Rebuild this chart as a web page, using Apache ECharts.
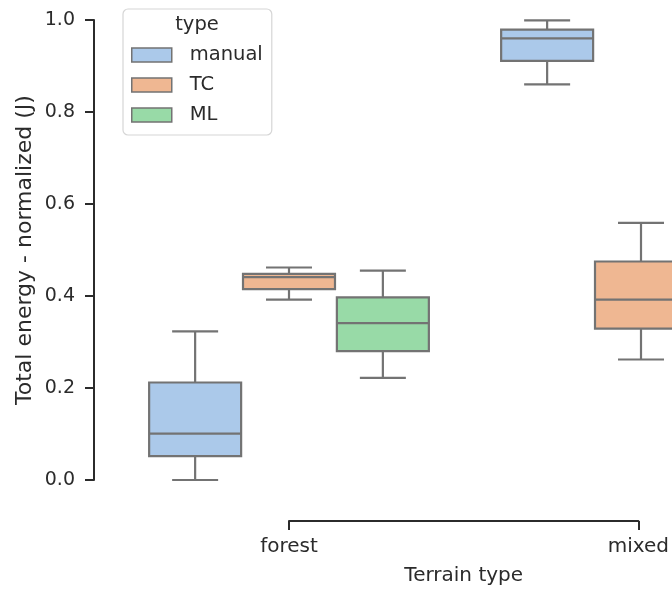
<!DOCTYPE html>
<html>
<head>
<meta charset="utf-8">
<script src="https://cdn.jsdelivr.net/npm/echarts@6/dist/echarts.min.js"></script>
<style>
  html, body { margin: 0; padding: 0; background: #fff; }
  #chart { width: 672px; height: 589px; }
</style>
</head>
<body>
<div id="chart"></div>
<script>
// Terrain categories and controller types
const terrains = ['forest', 'mixed'];
const types = ['manual', 'TC', 'ML'];

// Box statistics per terrain: [lower whisker, Q1, median, Q3, upper whisker]
const manualStats = [[0.000, 0.052, 0.101, 0.212, 0.323], [0.860, 0.911, 0.960, 0.979, 0.999]];
const tcStats     = [[0.392, 0.415, 0.441, 0.448, 0.462], [0.262, 0.329, 0.392, 0.475, 0.559]];
const mlStats     = [[0.222, 0.280, 0.341, 0.397, 0.455], null];

// Y axis ticks
const yTicks = [0.0, 0.2, 0.4, 0.6, 0.8, 1.0];

const fills = ['#abc9ea', '#efb792', '#98daa7'];
const edge = '#737373';
const ink = '#2b2b2b';
const font = 'DejaVu Sans';

const statsByType = [manualStats, tcStats, mlStats];
const hueStep = 0.8 / types.length;
const boxUnits = hueStep * 0.98;

function makeRender(hueIdx) {
  return function (params, api) {
    const xc = api.value(0) + (hueIdx - (types.length - 1) / 2) * hueStep;
    const cx = api.coord([xc, 0])[0];
    const w = api.size([boxUnits, 0])[0];
    const yLo = api.coord([xc, api.value(1)])[1];
    const yQ1 = api.coord([xc, api.value(2)])[1];
    const yMed = api.coord([xc, api.value(3)])[1];
    const yQ3 = api.coord([xc, api.value(4)])[1];
    const yHi = api.coord([xc, api.value(5)])[1];
    const ls = { stroke: edge, lineWidth: 2.2 };
    const cap = w / 4;
    return {
      type: 'group',
      children: [
        { type: 'line', shape: { x1: cx, y1: yQ3, x2: cx, y2: yHi }, style: ls },
        { type: 'line', shape: { x1: cx, y1: yQ1, x2: cx, y2: yLo }, style: ls },
        { type: 'line', shape: { x1: cx - cap, y1: yHi, x2: cx + cap, y2: yHi }, style: ls },
        { type: 'line', shape: { x1: cx - cap, y1: yLo, x2: cx + cap, y2: yLo }, style: ls },
        { type: 'rect', shape: { x: cx - w / 2, y: yQ3, width: w, height: yQ1 - yQ3 },
          style: { fill: fills[hueIdx], stroke: edge, lineWidth: 2.2 } },
        { type: 'line', shape: { x1: cx - w / 2, y1: yMed, x2: cx + w / 2, y2: yMed }, style: ls }
      ]
    };
  };
}

const series = types.map(function (name, k) {
  const rows = [];
  statsByType[k].forEach(function (s, i) {
    if (s) rows.push([i].concat(s));
  });
  return {
    name: name,
    type: 'custom',
    clip: false,
    xAxisIndex: 0,
    yAxisIndex: 0,
    renderItem: makeRender(k),
    itemStyle: { color: fills[k], borderColor: edge, borderWidth: 1.5 },
    encode: { x: 0, y: [1, 2, 3, 4, 5] },
    data: rows
  };
});

const hidden = { show: false };
const axisLineStyle = { show: true, lineStyle: { color: ink, width: 2 } };
const tickStyle = { show: true, length: 9, lineStyle: { color: ink, width: 2 } };

const chart = echarts.init(document.getElementById('chart'), null, { renderer: 'canvas' });
chart.setOption({
  backgroundColor: '#ffffff',
  animation: false,
  grid: [
    // plotting area
    { left: 289, top: 20, width: 352, height: 460 },
    // detached category spine, trimmed to the first and last terrain
    { left: 289, top: 511, width: 352, height: 10 },
    // detached value spine, trimmed to 0..1
    { left: 94, top: 20, width: 10, height: 460 }
  ],
  xAxis: [
    { gridIndex: 0, type: 'value', min: 0, max: terrains.length - 1, show: false },
    {
      gridIndex: 1,
      type: 'value',
      min: 0,
      max: terrains.length - 1,
      interval: 1,
      splitLine: hidden,
      axisLine: axisLineStyle,
      axisTick: tickStyle,
      axisLabel: {
        margin: 16, fontSize: 20, fontFamily: font, color: ink,
        formatter: function (v) { return terrains[v] || ''; }
      },
      name: 'Terrain type',
      nameLocation: 'middle',
      nameGap: 45,
      nameTextStyle: { fontSize: 20, fontFamily: font, color: ink }
    },
    { gridIndex: 2, type: 'value', show: false }
  ],
  yAxis: [
    { gridIndex: 0, type: 'value', min: yTicks[0], max: yTicks[yTicks.length - 1], show: false },
    { gridIndex: 1, type: 'value', show: false },
    {
      gridIndex: 2,
      type: 'value',
      min: yTicks[0],
      max: yTicks[yTicks.length - 1],
      interval: 0.2,
      splitLine: hidden,
      axisLine: axisLineStyle,
      axisTick: tickStyle,
      axisLabel: {
        margin: 19, fontSize: 19, fontFamily: font, color: ink,
        formatter: function (v) { return v.toFixed(1); }
      },
      name: 'Total energy - normalized (J)',
      nameLocation: 'middle',
      nameGap: 58,
      nameTextStyle: { fontSize: 22, fontFamily: font, color: ink }
    }
  ],
  legend: {
    data: types,
    orient: 'vertical',
    left: 123,
    top: 9,
    icon: 'rect',
    itemWidth: 40,
    itemHeight: 14,
    itemGap: 10,
    padding: [36, 9, 10, 8],
    borderColor: '#d6d6d6',
    borderWidth: 1.2,
    borderRadius: 5,
    backgroundColor: 'rgba(255,255,255,0.85)',
    itemStyle: { borderColor: edge, borderWidth: 1.5 },
    textStyle: { fontSize: 19.5, fontFamily: font, color: ink, padding: [0, 0, 0, 13] },
    selectedMode: false
  },
  graphic: [{
    type: 'text',
    z: 100,
    x: 197,
    y: 25,
    style: { text: 'type', font: '19.5px "DejaVu Sans"', fill: ink, align: 'center', verticalAlign: 'middle' }
  }],
  series: series
});
</script>
</body>
</html>
